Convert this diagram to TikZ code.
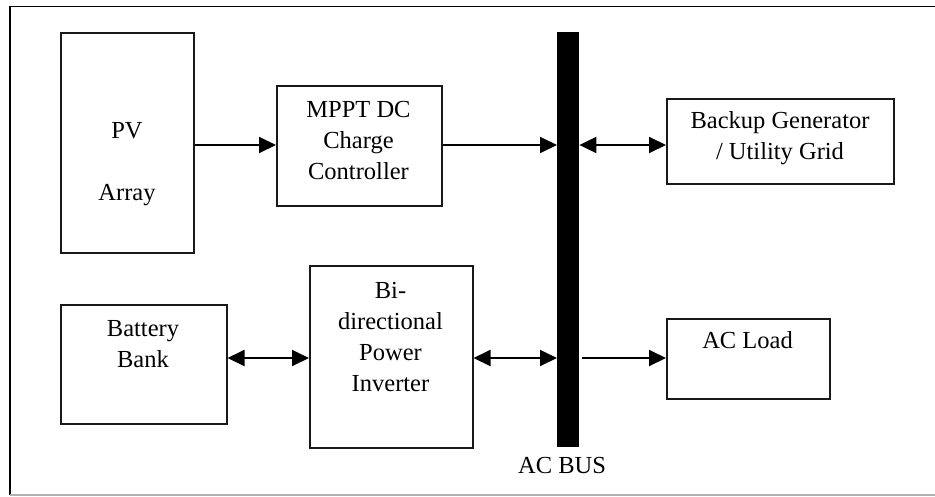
\documentclass[tikz,border=0pt]{standalone}
\usepackage{fontspec}
\setmainfont{Liberation Serif}
\usetikzlibrary{arrows.meta}
\begin{document}
\begin{tikzpicture}[x=1pt,y=-1pt,
  blk/.style={draw=black!90, line width=1.5pt, inner sep=0pt, anchor=north west},
  txt/.style={align=center, font=\fontsize{24.5}{31}\selectfont, inner sep=0pt, text=black},
  tip/.tip={Triangle[length=17pt,width=16pt]},
  conn/.style={line width=1.9pt, draw=black, -tip},
  biconn/.style={line width=1.9pt, draw=black, tip-tip},
  busbar/.style={fill=black, inner sep=0pt, anchor=north west}]
\useasboundingbox (0,0) rectangle (935,496);
% outer frame
\draw[line width=1.6pt, black] (935,6.5) -- (10,6.5) -- (10,495);
\draw[line width=1.3pt, black!30] (10,495) -- (935,495);
% blocks
\node[blk, minimum width=133pt, minimum height=220pt] (pv) at (60,32) {};
\node[blk, minimum width=165pt, minimum height=120pt] (mppt) at (276,85) {};
\node[busbar, minimum width=22pt, minimum height=415pt] (bus) at (557,32) {};
\node[blk, minimum width=227pt, minimum height=85pt] (backup) at (666,98) {};
\node[blk, minimum width=166pt, minimum height=119pt] (battery) at (60,304) {};
\node[blk, minimum width=163pt, minimum height=182pt] (inverter) at (309,265) {};
\node[blk, minimum width=163pt, minimum height=80pt] (acload) at (666,318) {};
% texts
\node[txt] (pvtext) at (127,164) {PV\\[31pt]Array};
\node[txt] (mppttext) at (358.5,141) {MPPT DC\\Charge\\Controller};
\node[txt] (backuptext) at (780,138) {Backup Generator\\/ Utility Grid};
\node[txt] (batterytext) at (143,344) {Battery\\Bank};
\node[txt] (invertertext) at (390.5,337) {Bi-\\directional\\Power\\Inverter};
\node[txt] (acloadtext) at (747.5,340) {AC Load};
\node[txt] (bustext) at (562,466) {AC BUS};
% connectors
\coordinate (row1) at (0,145);
\coordinate (row2) at (0,358);
\draw[conn] (pv.east |- row1) -- (mppt.west |- row1);
\draw[conn] (mppt.east |- row1) -- (bus.west |- row1);
\draw[biconn] (bus.east |- row1) -- (backup.west |- row1);
\draw[biconn] (battery.east |- row2) -- (inverter.west |- row2);
\draw[biconn] (inverter.east |- row2) -- (bus.west |- row2);
\draw[conn] ([xshift=3pt]bus.east |- row2) -- (acload.west |- row2);
\end{tikzpicture}
\end{document}
